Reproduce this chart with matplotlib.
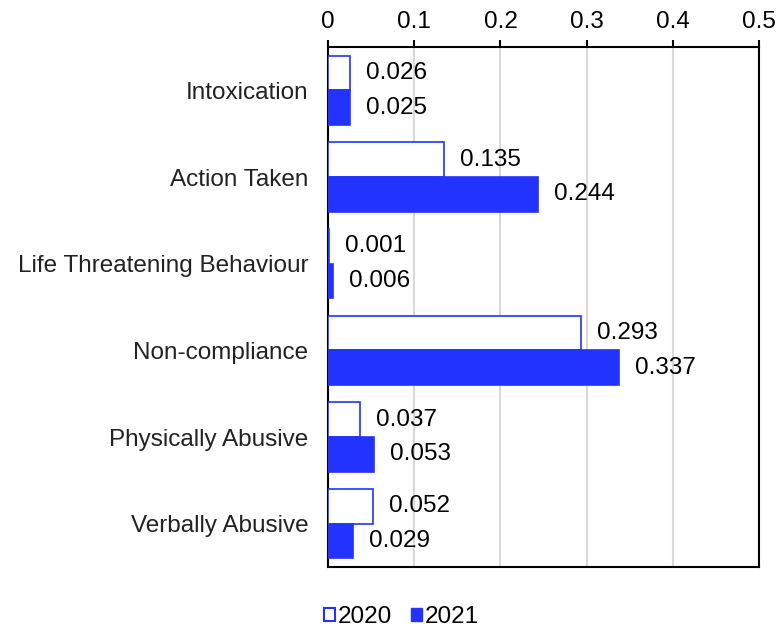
import matplotlib
matplotlib.use("Agg")
import matplotlib.pyplot as plt
import numpy as np
from matplotlib.patches import Patch

plt.rcParams["font.family"] = ["Liberation Sans", "DejaVu Sans"]

# Data
categories = [
    "Intoxication",
    "Action Taken",
    "Life Threatening Behaviour",
    "Non-compliance",
    "Physically Abusive",
    "Verbally Abusive",
]
values_2020 = [0.026, 0.135, 0.001, 0.293, 0.037, 0.052]
values_2021 = [0.025, 0.244, 0.006, 0.337, 0.053, 0.029]
x_ticks = [0, 0.1, 0.2, 0.3, 0.4, 0.5]
x_tick_labels = ["0", "0.1", "0.2", "0.3", "0.4", "0.5"]

blue = "#2233ff"
fs = 17.5

fig = plt.figure(figsize=(7.76, 6.27), dpi=100)
ax = fig.add_axes([0.4227, 0.0957, 0.5555, 0.8293])

y = np.arange(len(categories))
h = 0.4

bars_2020 = ax.barh(y - h / 2, values_2020, height=h, color="white",
                    edgecolor=blue, linewidth=1.2, label="2020", zorder=3)
bars_2021 = ax.barh(y + h / 2, values_2021, height=h, color=blue,
                    edgecolor=blue, linewidth=1.2, label="2021", zorder=3)

# Value labels to the right of each bar
for bars, vals in [(bars_2020, values_2020), (bars_2021, values_2021)]:
    for b, v in zip(bars, vals):
        ax.annotate(f"{v:.3f}", (v, b.get_y() + b.get_height() / 2),
                    xytext=(11.5, 0), textcoords="offset points",
                    ha="left", va="center", fontsize=fs, color="black")

ax.set_xlim(0, 0.5)
ax.set_ylim(len(categories) - 0.5, -0.5)
ax.set_xticks(x_ticks)
ax.set_xticklabels(x_tick_labels)
ax.set_yticks(y)
ax.set_yticklabels(categories)

ax.xaxis.tick_top()
ax.tick_params(axis="x", direction="out", length=5, width=1.5, labelsize=fs,
               pad=5, colors="black")
ax.tick_params(axis="y", length=0, labelsize=fs, pad=14, labelcolor="#222222")

ax.grid(axis="x", color="#d9d9d9", linewidth=1.5, zorder=0)
ax.set_axisbelow(True)
for side in ["top", "bottom", "left", "right"]:
    ax.spines[side].set_linewidth(1.5)
    ax.spines[side].set_color("black")

handles = [
    Patch(facecolor="white", edgecolor=blue, linewidth=1.5, label="2020"),
    Patch(facecolor=blue, edgecolor=blue, label="2021"),
]
fig.legend(handles=handles, loc="center", bbox_to_anchor=(0.517, 0.016),
           ncol=2, frameon=False, fontsize=fs, handlelength=0.45,
           handleheight=0.45, handletextpad=0.1, columnspacing=0.8,
           borderpad=0)

fig.savefig("out.png", dpi=100)
